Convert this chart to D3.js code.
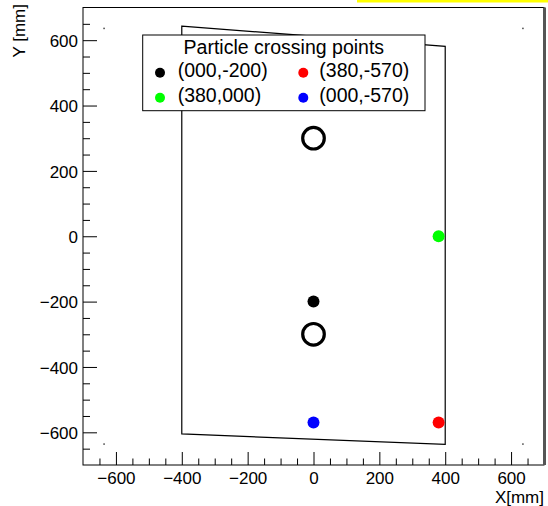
<!DOCTYPE html>
<html>
<head>
<meta charset="utf-8">
<script src="https://cdn.jsdelivr.net/npm/d3@7"></script>
<style>
  html, body { margin: 0; padding: 0; background: #fff; }
  svg { display: block; font-family: "Liberation Sans", Arial, Helvetica, sans-serif; }
</style>
</head>
<body>
<div id="chart"></div>
<script>
// ---- data ----
const pointLabels = ["(000,-200)", "(380,000)", "(380,-570)", "(000,-570)"];
const pointX = [0, 380, 380, 0];
const pointY = [-200, 0, -570, -570];
const pointColors = ["#000000", "#00ff00", "#ff0000", "#0000ff"];
const legendOrder = [0, 2, 1, 3];
const legendTitle = "Particle crossing points";

const ringX = [0, 0];
const ringY = [300, -300];

const outlineX = [-400, 400, 400, -400];
const outlineY = [643, 581, -637, -605];

const cornerX = [-636, 636, -636, 636];
const cornerY = [636, 636, -636, -636];

const xDomain = [-700, 700];
const yDomain = [-700, 700];
const xTickValues = [-600, -400, -200, 0, 200, 400, 600];
const yTickValues = [-600, -400, -200, 0, 200, 400, 600];
const minorStep = 50;
const xTitle = "X[mm]";
const yTitle = "Y [mm]";

// ---- layout ----
const W = 548, H = 506;
const fL = 83, fR = 544, fT = 7.5, fB = 465;

const svg = d3.select("#chart").append("svg").attr("width", W).attr("height", H);

const x = d3.scaleLinear().domain(xDomain).range([fL, fR]);
const y = d3.scaleLinear().domain(yDomain).range([fB, fT]);

// yellow strip at top (partial box)
svg.append("rect").attr("x", 357).attr("y", 0).attr("width", W - 357).attr("height", 2.5).attr("fill", "#ffff00");

// frame
svg.append("rect").attr("x", fL).attr("y", fT).attr("width", fR - fL).attr("height", fB - fT)
  .attr("fill", "none").attr("stroke", "#000").attr("stroke-width", 1);
svg.append("rect").attr("x", fR - 1).attr("y", fT).attr("width", 3).attr("height", fB - fT).attr("fill", "#555");

// minor ticks
const minorX = d3.range(xDomain[0], xDomain[1] + 1, minorStep).filter(v => !xTickValues.includes(v) && v > xDomain[0] && v < xDomain[1]);
const minorY = d3.range(yDomain[0], yDomain[1] + 1, minorStep).filter(v => !yTickValues.includes(v) && v > yDomain[0] && v < yDomain[1]);

const fmt = d => d3.format("")(d).replace("-", "\u2212");

// x axis (ticks inside)
const xAxisG = svg.append("g").attr("transform", `translate(0,${fB})`)
  .call(d3.axisBottom(x).tickValues(xTickValues).tickSize(-13).tickPadding(0).tickFormat(fmt));
xAxisG.select(".domain").remove();
xAxisG.selectAll("line").attr("stroke", "#000");
xAxisG.selectAll("text").attr("font-size", 17).attr("fill", "#000").attr("y", 19).attr("dy", 0);
const xMinor = svg.append("g").attr("transform", `translate(0,${fB})`)
  .call(d3.axisBottom(x).tickValues(minorX).tickSize(-6.5).tickFormat(""));
xMinor.select(".domain").remove();
xMinor.selectAll("line").attr("stroke", "#000");

// y axis (ticks inside)
const yAxisG = svg.append("g").attr("transform", `translate(${fL},0)`)
  .call(d3.axisLeft(y).tickValues(yTickValues).tickSize(-14).tickPadding(0).tickFormat(fmt));
yAxisG.select(".domain").remove();
yAxisG.selectAll("line").attr("stroke", "#000");
yAxisG.selectAll("text").attr("font-size", 17).attr("fill", "#000").attr("x", -5).attr("dy", "0.36em");
const yMinor = svg.append("g").attr("transform", `translate(${fL},0)`)
  .call(d3.axisLeft(y).tickValues(minorY).tickSize(-7).tickFormat(""));
yMinor.select(".domain").remove();
yMinor.selectAll("line").attr("stroke", "#000");

// axis titles
svg.append("text").attr("x", fR).attr("y", 503).attr("text-anchor", "end")
  .attr("font-size", 17).attr("fill", "#000").text(xTitle);
svg.append("text").attr("transform", `translate(25,4) rotate(-90)`).attr("text-anchor", "end")
  .attr("font-size", 17).attr("fill", "#000").text(yTitle);

// corner points
svg.append("g").selectAll("rect").data(cornerX.map((v, i) => [v, cornerY[i]])).join("rect")
  .attr("x", d => x(d[0]) - 0.75).attr("y", d => y(d[1]) - 0.75).attr("width", 1.5).attr("height", 1.5).attr("fill", "#444");

// outline polygon
const outline = outlineX.map((v, i) => [x(v), y(outlineY[i])]);
svg.append("path").attr("d", d3.line()(outline) + "Z").attr("fill", "none").attr("stroke", "#000").attr("stroke-width", 1.2);

// rings
svg.append("g").selectAll("circle").data(ringX.map((v, i) => [v, ringY[i]])).join("circle")
  .attr("cx", d => x(d[0])).attr("cy", d => y(d[1])).attr("r", 10.8)
  .attr("fill", "none").attr("stroke", "#000").attr("stroke-width", 3.2);

// points
svg.append("g").selectAll("circle").data(pointX.map((v, i) => ({ x: v, y: pointY[i], c: pointColors[i] }))).join("circle")
  .attr("cx", d => x(d.x)).attr("cy", d => y(d.y)).attr("r", 6).attr("fill", d => d.c);

// legend
const lg = svg.append("g");
const lx0 = 142.7, ly0 = 35, lx1 = 425, ly1 = 110.7;
lg.append("rect").attr("x", lx0).attr("y", ly0).attr("width", lx1 - lx0).attr("height", ly1 - ly0)
  .attr("fill", "#fff").attr("stroke", "#000").attr("stroke-width", 1);
lg.append("text").attr("x", (lx0 + lx1) / 2).attr("y", 54.3).attr("text-anchor", "middle")
  .attr("font-size", 19.5).attr("fill", "#000").text(legendTitle);
const colMarkerX = [160, 303.3], colTextX = [177.7, 319.3], rowY = [77.3, 102.3];
legendOrder.forEach((idx, k) => {
  const col = k % 2, row = Math.floor(k / 2);
  lg.append("circle").attr("cx", colMarkerX[col]).attr("cy", rowY[row] - 4.5).attr("r", 5).attr("fill", pointColors[idx]);
  lg.append("text").attr("x", colTextX[col]).attr("y", rowY[row]).attr("font-size", 19.5).attr("fill", "#000").text(pointLabels[idx]);
});
</script>
</body>
</html>
